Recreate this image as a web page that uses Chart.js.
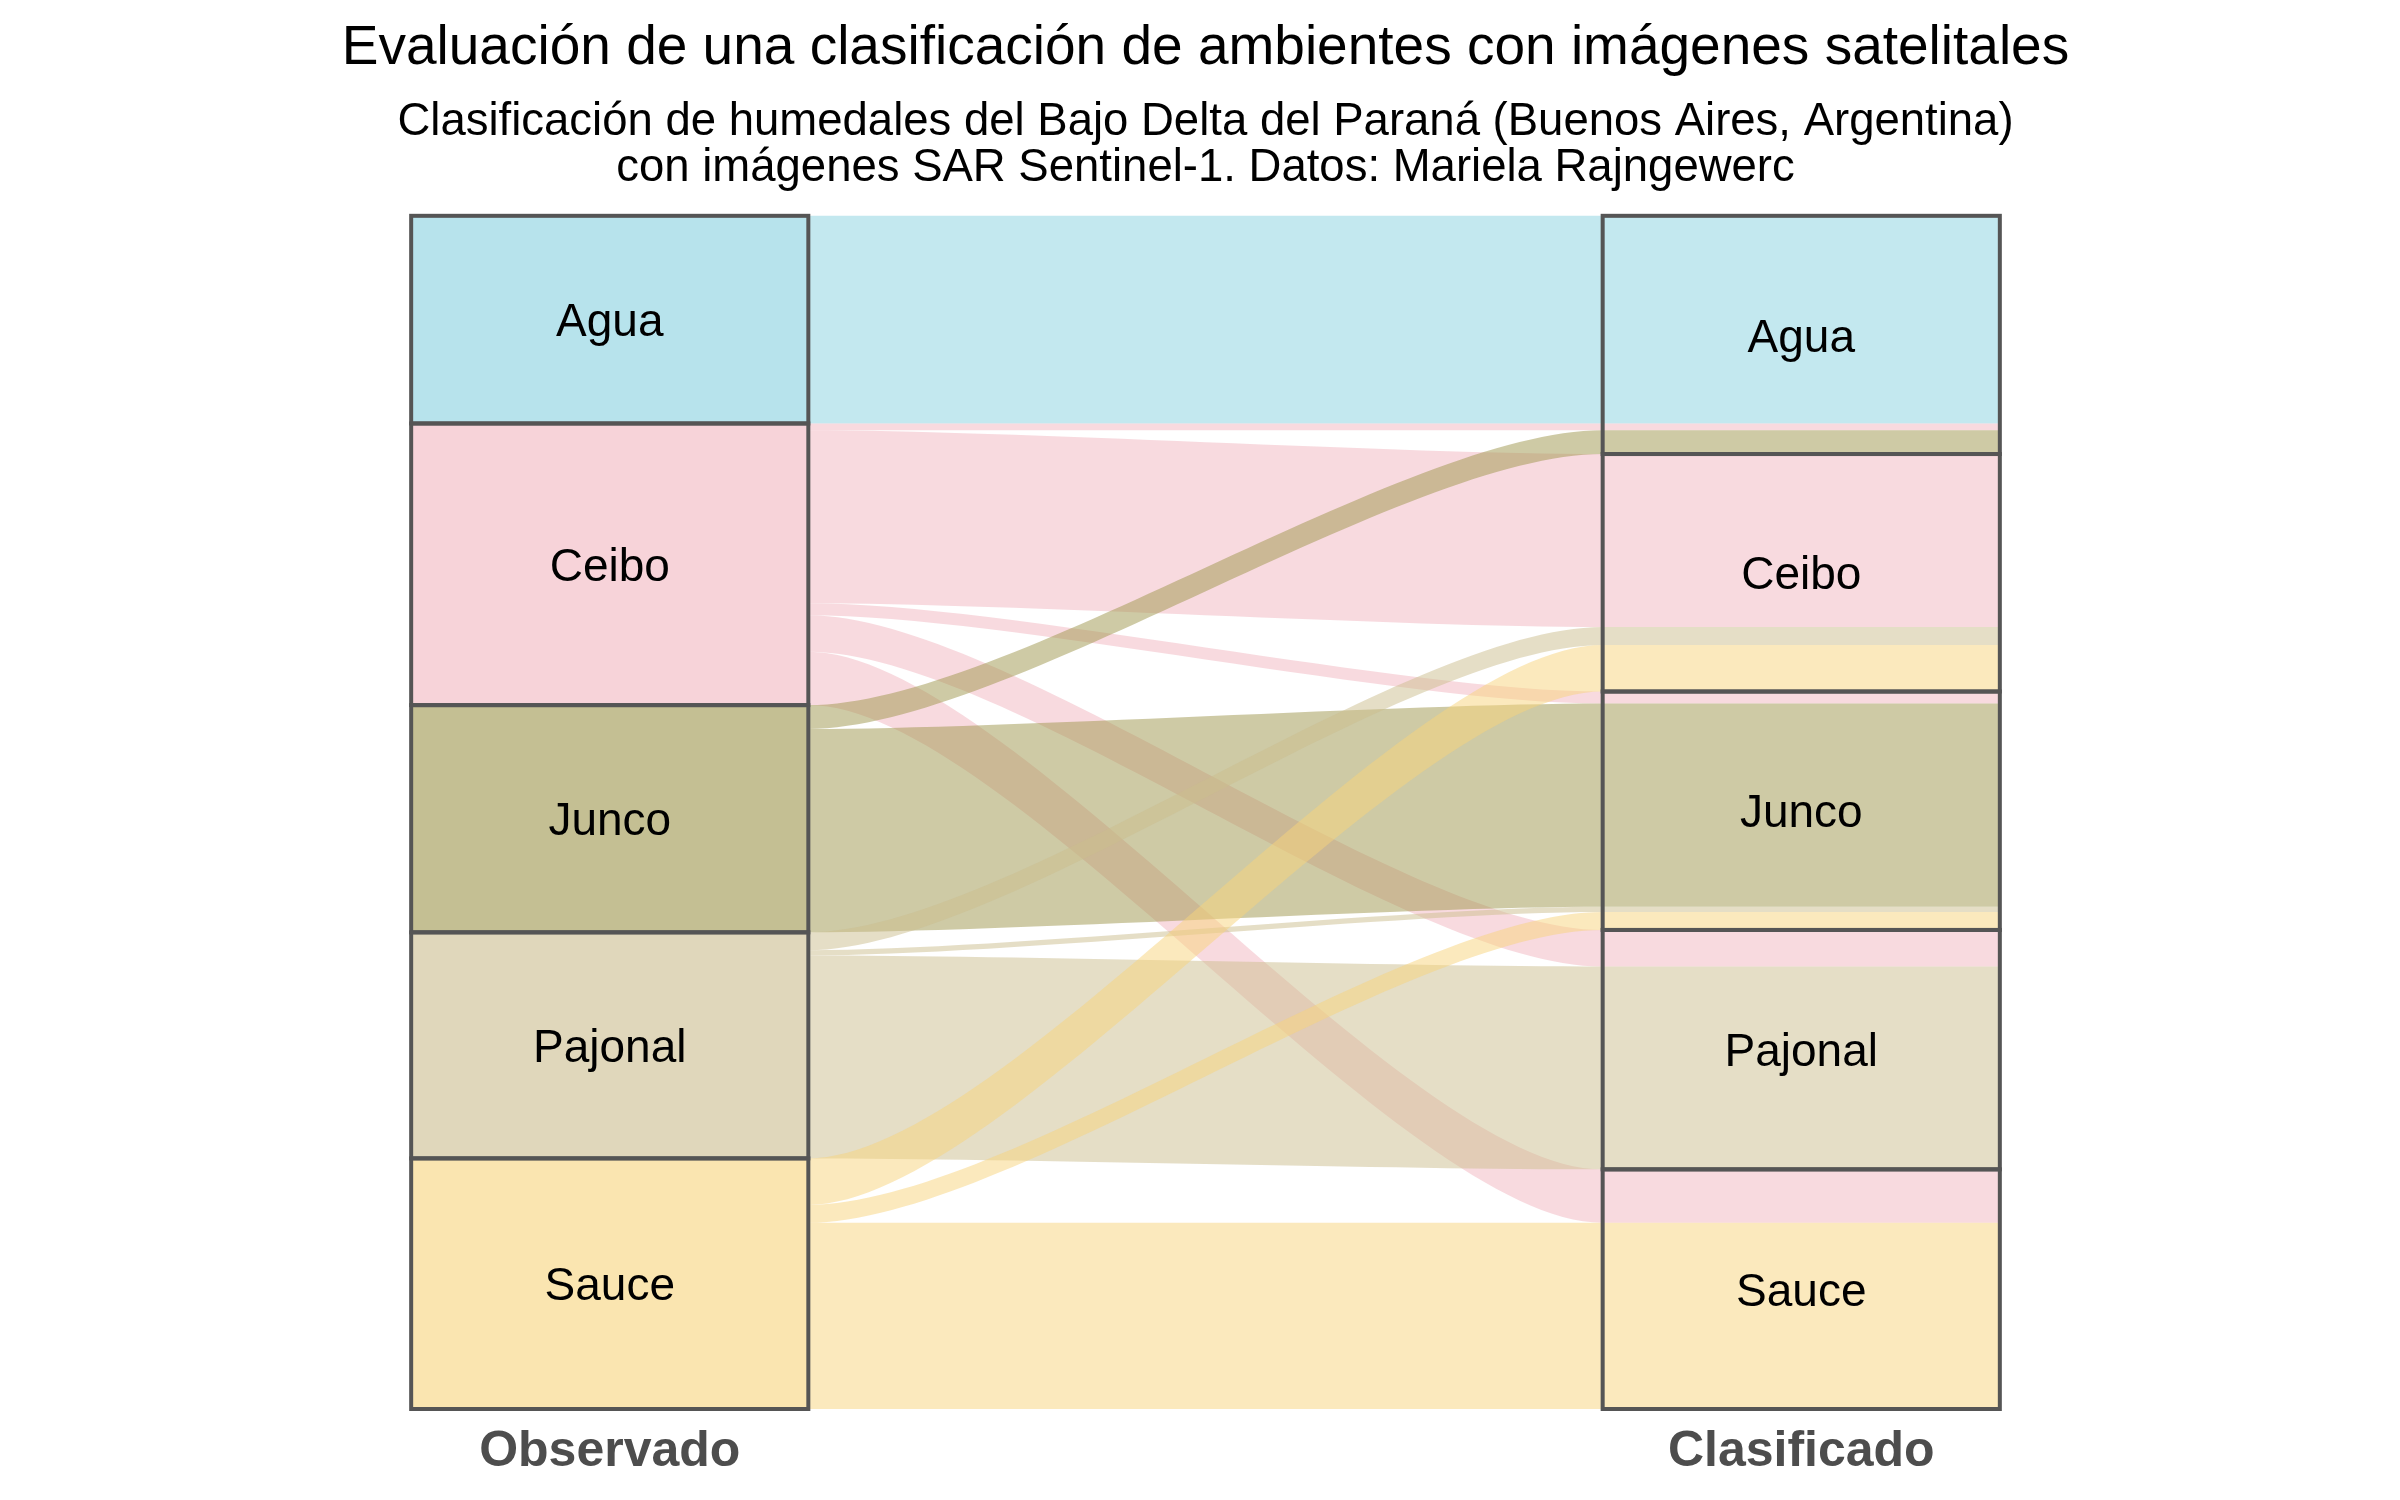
<!DOCTYPE html>
<html>
<head>
<meta charset="utf-8">
<script src="https://cdn.jsdelivr.net/npm/chart.js@4.4.1/dist/chart.umd.min.js"></script>
<style>
  html, body { margin: 0; padding: 0; background: #ffffff; }
  #wrap { width: 2400px; height: 1500px; position: relative; }
</style>
</head>
<body>
<div id="wrap"><canvas id="c"></canvas></div>
<script>
// ---- data ----
const ejes = ['Observado', 'Clasificado'];
const clases = ['Agua', 'Ceibo', 'Junco', 'Pajonal', 'Sauce'];
// flows from each observed class to each classified class (order of clases)
const desdeAgua    = [87.0, 0,    0,    0,    0   ];
const desdeCeibo   = [2.8,  72.5, 5.0,  15.3, 22.4];
const desdeJunco   = [10.0, 0,    85.2, 0,    0   ];
const desdePajonal = [0,    7.5,  2.2,  85.0, 0   ];
const desdeSauce   = [0,    19.5, 7.5,  0,    78.0];
const coloresBase  = ['#87d1df', '#f1b5bf', '#9d954b', '#cbbd8d', '#f7d37b'];

const matriz = [desdeAgua, desdeCeibo, desdeJunco, desdePajonal, desdeSauce];
const totalObs = matriz.map(r => r.reduce((a, b) => a + b, 0));
const totalCla = clases.map((_, j) => matriz.reduce((a, r) => a + r[j], 0));
const total = totalObs.reduce((a, b) => a + b, 0);

function rgba(hex, a) {
  const n = parseInt(hex.slice(1), 16);
  return `rgba(${(n >> 16) & 255},${(n >> 8) & 255},${n & 255},${a})`;
}

const FONT = "'Liberation Sans', Arial, Helvetica, sans-serif";

const alluvialPlugin = {
  id: 'alluvial',
  beforeDraw(chart) {
    const ctx = chart.ctx;
    ctx.save();
    ctx.fillStyle = '#ffffff';
    ctx.fillRect(0, 0, chart.width, chart.height);
    ctx.restore();
  },
  beforeDatasetsDraw(chart) {
    const ctx = chart.ctx;
    const ys = chart.scales.y;
    const barL = chart.getDatasetMeta(0).data[0];
    const barR = chart.getDatasetMeta(0).data[1];
    const xL = barL.x + barL.width / 2;
    const xR = barR.x - barR.width / 2;
    const xRR = barR.x + barR.width / 2;
    const dx = xR - xL;
    const startObs = [], startCla = [];
    let acc = 0;
    totalObs.forEach((v, i) => { startObs[i] = acc; acc += v; });
    acc = 0;
    totalCla.forEach((v, j) => { startCla[j] = acc; acc += v; });
    const offL = matriz.map((r, i) => { let a = startObs[i]; return r.map(v => { const s = a; a += v; return s; }); });
    const offR = matriz.map(r => r.map(() => 0));
    clases.forEach((_, j) => {
      let a = startCla[j];
      matriz.forEach((r, i) => { offR[i][j] = a; a += r[j]; });
    });
    ctx.save();
    matriz.forEach((r, i) => {
      r.forEach((v, j) => {
        if (!v) return;
        const yl0 = ys.getPixelForValue(offL[i][j]);
        const yl1 = ys.getPixelForValue(offL[i][j] + v);
        const yr0 = ys.getPixelForValue(offR[i][j]);
        const yr1 = ys.getPixelForValue(offR[i][j] + v);
        ctx.beginPath();
        ctx.moveTo(xL, yl0);
        ctx.bezierCurveTo(xL + dx / 4, yl0, xR - dx / 4, yr0, xR, yr0);
        ctx.lineTo(xRR, yr0);
        ctx.lineTo(xRR, yr1);
        ctx.lineTo(xR, yr1);
        ctx.bezierCurveTo(xR - dx / 4, yr1, xL + dx / 4, yl1, xL, yl1);
        ctx.closePath();
        ctx.fillStyle = rgba(coloresBase[i], 0.5);
        ctx.fill();
      });
    });
    ctx.restore();
  },
  afterDatasetsDraw(chart) {
    const ctx = chart.ctx;
    ctx.save();
    ctx.strokeStyle = '#555555';
    ctx.lineWidth = 4;
    chart.data.datasets.forEach((ds, k) => {
      chart.getDatasetMeta(k).data.forEach(bar => {
        const top = Math.min(bar.y, bar.base), bot = Math.max(bar.y, bar.base);
        ctx.strokeRect(bar.x - bar.width / 2, top, bar.width, bot - top);
      });
    });
    ctx.fillStyle = '#000000';
    ctx.font = `46px ${FONT}`;
    ctx.textAlign = 'center';
    ctx.textBaseline = 'middle';
    chart.data.datasets.forEach((ds, k) => {
      chart.getDatasetMeta(k).data.forEach(bar => {
        ctx.fillText(ds.label, bar.x, (bar.y + bar.base) / 2 + 4);
      });
    });
    ctx.restore();
  }
};

new Chart(document.getElementById('c'), {
  type: 'bar',
  data: {
    labels: ejes,
    datasets: clases.map((c, k) => ({
      label: c,
      data: [totalObs[k], totalCla[k]],
      backgroundColor: [rgba(coloresBase[k], 0.6), 'rgba(0,0,0,0)'],
      borderWidth: 0,
      stack: 's',
      categoryPercentage: 1,
      barPercentage: 1 / 3
    }))
  },
  options: {
    responsive: true,
    maintainAspectRatio: false,
    animation: false,
    devicePixelRatio: 1,
    layout: { padding: { left: 14, right: 3, top: 0, bottom: 5 } },
    plugins: {
      legend: { display: false },
      tooltip: { enabled: false },
      title: {
        display: true,
        text: 'Evaluación de una clasificación de ambientes con imágenes satelitales',
        color: '#000000',
        font: { family: FONT, size: 55, weight: 'normal', lineHeight: 1.2 },
        padding: { top: 16, bottom: 9 }
      },
      subtitle: {
        display: true,
        text: ['Clasificación de humedales del Bajo Delta del Paraná (Buenos Aires, Argentina)',
               'con imágenes SAR Sentinel-1. Datos: Mariela Rajngewerc'],
        color: '#000000',
        font: { family: FONT, size: 45.5, weight: 'normal', lineHeight: 1.02 },
        padding: { top: 8, bottom: 24 }
      }
    },
    scales: {
      x: {
        type: 'category',
        stacked: true,
        grid: { display: false, drawTicks: false },
        border: { display: false },
        ticks: { color: '#4d4d4d', padding: 13, font: { family: FONT, size: 50, weight: 'bold', lineHeight: 1.2 } }
      },
      y: {
        type: 'linear',
        stacked: true,
        reverse: true,
        min: 0,
        max: total,
        display: false
      }
    }
  },
  plugins: [alluvialPlugin]
});
</script>
</body>
</html>
